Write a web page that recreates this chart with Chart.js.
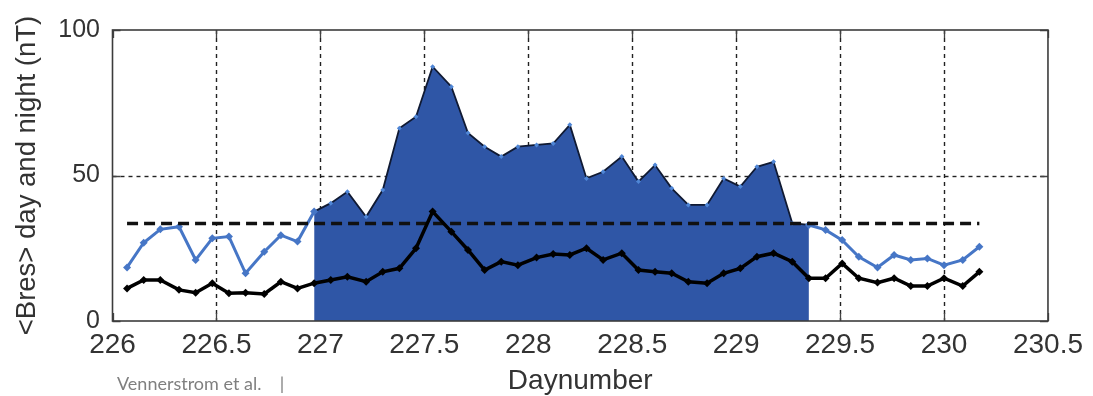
<!DOCTYPE html>
<html>
<head>
<meta charset="utf-8">
<script src="https://cdn.jsdelivr.net/npm/chart.js@4.4.1/dist/chart.umd.min.js"></script>
<style>
  html, body { margin: 0; padding: 0; background: #fff; }
  #wrap { position: relative; width: 1093px; height: 396px; overflow: hidden; }
  #footer {
    position: absolute; left: 117px; top: 373px;
    font-family: Lato, "Open Sans", sans-serif; font-size: 18px; color: #7f7f7f;
    white-space: pre; line-height: 20px;
  }
</style>
</head>
<body>
<div id="wrap">
  <canvas id="c" width="1093" height="396"></canvas>
  <div id="footer">Vennerstrom et al.    |</div>
</div>
<script>
// Day number of each 2-hourly average
const days = [
  226.07, 226.15, 226.23, 226.32, 226.40, 226.48, 226.56, 226.64, 226.73, 226.81,
  226.89, 226.97, 227.05, 227.13, 227.22, 227.30, 227.38, 227.46, 227.54, 227.63,
  227.71, 227.79, 227.87, 227.95, 228.04, 228.12, 228.20, 228.28, 228.36, 228.45,
  228.53, 228.61, 228.69, 228.77, 228.86, 228.94, 229.02, 229.10, 229.18, 229.27,
  229.35, 229.43, 229.51, 229.59, 229.68, 229.76, 229.84, 229.92, 230.00, 230.09,
  230.17
];

// <Bres> on the day side (nT)
const bresDay = [
  18.4, 26.9, 31.5, 32.4, 21.0, 28.4, 29.0, 16.4, 23.8, 29.5,
  27.3, 37.6, 40.5, 44.4, 35.8, 45.0, 66.2, 70.2, 87.4, 80.5,
  64.6, 59.9, 56.5, 59.9, 60.5, 61.0, 67.4, 49.0, 51.3, 56.5,
  47.9, 53.6, 45.6, 39.9, 39.9, 49.0, 46.2, 53.0, 54.7, 33.6,
  33.0, 31.3, 27.8, 22.1, 18.4, 22.7, 21.0, 21.5, 19.2, 21.0,
  25.5
];

// <Bres> on the night side (nT)
const bresNight = [
  11.2, 14.1, 14.1, 10.7, 9.7, 13.0, 9.5, 9.7, 9.3, 13.5,
  11.2, 13.0, 14.1, 15.2, 13.5, 16.9, 18.1, 25.0, 37.6, 30.7,
  24.4, 17.5, 20.4, 19.2, 21.8, 23.0, 22.7, 25.0, 21.0, 23.3,
  17.5, 16.9, 16.4, 13.5, 13.0, 16.4, 18.1, 22.1, 23.3, 20.4,
  14.7, 14.7, 19.8, 14.7, 13.2, 14.7, 12.0, 12.0, 14.7, 12.0,
  16.9
];

// Disturbed interval (indices into the arrays above)
const eventFirst = 11;
const eventLast = 40;

// Threshold level and its extent
const thresholdLevel = 33.5;
const thresholdDays = [226.07, 230.17];

const xTicks = [226, 226.5, 227, 227.5, 228, 228.5, 229, 229.5, 230, 230.5];
const xTickLabels = ['226', '226.5', '227', '227.5', '228', '228.5', '229', '229.5', '230', '230.5'];
const yTicks = [0, 50, 100];
const yTickLabels = ['0', '50', '100'];

const FONT = '"Liberation Sans", Arial, sans-serif';
const TEXT = '#333333';

const pts = (vals, keep) => days.map((d, i) => ({ x: d, y: keep(i) ? vals[i] : null }));

// Dotted grid, inner tick marks and the box around the axes
const frame = {
  id: 'frame',
  beforeDatasetsDraw(chart) {
    const { ctx, chartArea: a, scales: { x, y } } = chart;
    ctx.save();
    ctx.strokeStyle = '#222';
    ctx.lineWidth = 1.4;
    ctx.setLineDash([4, 4]);
    xTicks.forEach(v => {
      if (v <= x.min || v >= x.max) return;
      const px = Math.round(x.getPixelForValue(v)) + 0.5;
      ctx.beginPath(); ctx.moveTo(px, a.top); ctx.lineTo(px, a.bottom); ctx.stroke();
    });
    yTicks.forEach(v => {
      if (v <= y.min || v >= y.max) return;
      const py = Math.round(y.getPixelForValue(v)) + 0.5;
      ctx.beginPath(); ctx.moveTo(a.left, py); ctx.lineTo(a.right, py); ctx.stroke();
    });
    ctx.setLineDash([]);
    ctx.strokeStyle = '#444';
    ctx.lineWidth = 1.3;
    const t = 8;
    xTicks.forEach(v => {
      const px = Math.round(x.getPixelForValue(v)) + 0.5;
      ctx.beginPath();
      ctx.moveTo(px, a.bottom); ctx.lineTo(px, a.bottom - t);
      ctx.moveTo(px, a.top); ctx.lineTo(px, a.top + t);
      ctx.stroke();
    });
    yTicks.forEach(v => {
      const py = Math.round(y.getPixelForValue(v)) + 0.5;
      ctx.beginPath();
      ctx.moveTo(a.left, py); ctx.lineTo(a.left + t, py);
      ctx.moveTo(a.right, py); ctx.lineTo(a.right - t, py);
      ctx.stroke();
    });
    ctx.restore();
  },
  afterDatasetsDraw(chart) {
    const { ctx, chartArea: a } = chart;
    ctx.save();
    ctx.strokeStyle = '#3c3c3c';
    ctx.lineWidth = 1.6;
    ctx.strokeRect(a.left, a.top, a.right - a.left, a.bottom - a.top);
    ctx.restore();
  }
};

new Chart(document.getElementById('c'), {
  type: 'line',
  data: {
    datasets: [
      {
        // night side
        data: pts(bresNight, () => true),
        borderColor: '#000',
        borderWidth: 3.5,
        pointStyle: 'rectRot',
        pointRadius: 4,
        pointBackgroundColor: '#000',
        pointBorderWidth: 0,
        tension: 0,
        order: 0
      },
      {
        // threshold
        data: thresholdDays.map(d => ({ x: d, y: thresholdLevel })),
        borderColor: '#111',
        borderWidth: 3.5,
        borderDash: [11, 6],
        pointRadius: 0,
        order: 1
      },
      {
        // day side outside the disturbed interval
        data: pts(bresDay, i => i <= eventFirst || i >= eventLast),
        borderColor: '#4676c6',
        borderWidth: 3,
        pointStyle: 'rectRot',
        pointRadius: 4,
        pointBackgroundColor: '#4676c6',
        pointBorderWidth: 0,
        spanGaps: false,
        tension: 0,
        order: 2
      },
      {
        // day side during the disturbed interval, filled down to zero
        data: days.slice(eventFirst, eventLast + 1).map((d, k) => ({ x: d, y: bresDay[eventFirst + k] })),
        borderColor: '#101a33',
        borderWidth: 1.8,
        backgroundColor: '#2f56a6',
        fill: 'origin',
        pointStyle: 'rectRot',
        pointRadius: 2.5,
        pointBackgroundColor: '#4f86d6',
        pointBorderWidth: 0,
        tension: 0,
        order: 3
      }
    ]
  },
  options: {
    responsive: false,
    animation: false,
    devicePixelRatio: 1,
    layout: { padding: { top: 30, right: 37, left: 0, bottom: 0 } },
    plugins: { legend: { display: false }, tooltip: { enabled: false } },
    scales: {
      x: {
        type: 'linear',
        min: 226,
        max: 230.5,
        afterBuildTicks: s => { s.ticks = xTicks.map(v => ({ value: v })); },
        afterFit: s => { s.height = 75; },
        ticks: {
          callback: v => xTickLabels[xTicks.indexOf(v)],
          font: { family: FONT, size: 28, lineHeight: 1 },
          color: TEXT,
          padding: 10,
          maxRotation: 0,
          autoSkip: false
        },
        grid: { display: false, drawTicks: false },
        border: { display: false },
        title: {
          display: true,
          text: 'Daynumber',
          font: { family: FONT, size: 28, lineHeight: 1 },
          color: TEXT,
          padding: { top: 0, bottom: 1 }
        }
      },
      y: {
        type: 'linear',
        min: 0,
        max: 100,
        afterBuildTicks: s => { s.ticks = yTicks.map(v => ({ value: v })); },
        afterFit: s => { s.width = 112.5; },
        ticks: {
          callback: v => yTickLabels[yTicks.indexOf(v)],
          font: { family: FONT, size: 25, lineHeight: 1 },
          color: TEXT,
          padding: 12.5
        },
        grid: { display: false, drawTicks: false },
        border: { display: false },
        title: {
          display: true,
          text: '<Bres> day and night (nT)',
          font: { family: FONT, size: 27.5, lineHeight: 1 },
          color: TEXT,
          padding: { top: 13.5, bottom: 0 }
        }
      }
    }
  },
  plugins: [frame]
});
</script>
</body>
</html>
